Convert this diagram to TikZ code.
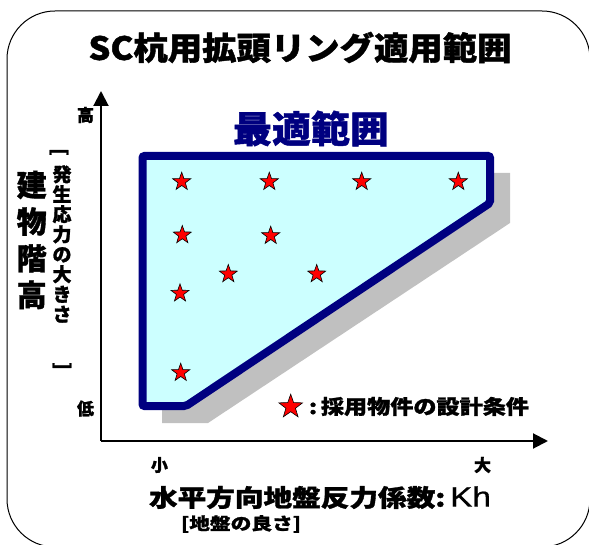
\documentclass[tikz,border=0pt]{standalone}
\usepackage{fontspec}
\usepackage{graphicx}
\usetikzlibrary{shapes.geometric,arrows.meta}
\newfontfamily\jp{Noto Sans CJK JP}
\newfontfamily\jpheavy{Noto Sans CJK JP}[FakeBold=1.2]
\newfontfamily\lat{Liberation Sans}[FakeBold=0.6]
\definecolor{navyblue}{RGB}{0,0,128}
\definecolor{lightcyan}{RGB}{204,255,255}
\definecolor{shadowgray}{RGB}{192,192,192}
\newcommand{\wtext}[2]{\resizebox{#1}{\height}{#2}}
\newcommand{\fs}[1]{\fontsize{#1}{#1}\selectfont\jp\bfseries}
\newcommand{\fh}[1]{\fontsize{#1}{#1}\selectfont\jpheavy\bfseries}
\tikzset{
  pt/.style={star, star points=5, star point ratio=2.5, minimum size=19pt, inner sep=0pt,
    fill=red, draw=black, line width=0.6pt},
  lbl/.style={inner sep=0pt, anchor=center},
  axisline/.style={line width=2pt, -{Triangle[length=15pt,width=15pt]}},
}
\begin{document}
\begin{tikzpicture}[x=1pt,y=-1pt]
\useasboundingbox (0,0) rectangle (589,545);
% outer frame
\draw[line width=1pt, rounded corners=48pt] (7,11) rectangle (590,547);
% title
\node[lbl] (title) at (300,47.5) {\wtext{423pt}{\fh{32}SC杭用拡頭リング適用範囲}};
% axes
\coordinate (o) at (101,441);
\coordinate (ytip) at (101,91);
\coordinate (xtip) at (548,441);
\draw[axisline] (o) -- (ytip);
\draw[axisline] (o) -- (xtip);
% shadow
\fill[shadowgray] (162,173) -- (510,173) -- (510,223) -- (208,423) -- (162,423) -- cycle;
% region
\draw[line width=8pt, draw=navyblue, fill=lightcyan, rounded corners=2pt]
  (142.5,156) -- (490,156) -- (490,203) -- (186,406) -- (142.5,406) -- cycle;
\node[lbl, text=navyblue] (best) at (311,128.5) {\wtext{156pt}{\fh{37}最適範囲}};
% stars
\node[pt] (s1) at (181.7,181.7) {};
\node[pt] (s2) at (269.3,181.7) {};
\node[pt] (s3) at (361.7,181.7) {};
\node[pt] (s4) at (458.3,181.7) {};
\node[pt] (s5) at (182.3,235) {};
\node[pt] (s6) at (270.7,235.7) {};
\node[pt] (s7) at (228.3,274) {};
\node[pt] (s8) at (316.7,274) {};
\node[pt] (s9) at (180,293.3) {};
\node[pt] (s10) at (180.7,372.7) {};
% legend
\node[pt, minimum size=25pt] (ls) at (290.7,406.7) {};
\node[lbl] (legend) at (419,406.5) {\wtext{220pt}{\fh{20}:\,採用物件の設計条件}};
% axis tick labels
\node[lbl] (hi) at (85.5,115) {\fh{17}高};
\node[lbl] (lo) at (85.5,408.5) {\fh{17}低};
\node[lbl] (sm) at (159.5,465) {\fh{17}小};
\node[lbl] (lg) at (482.5,465) {\fh{17}大};
% y-axis labels
\node[lbl, align=center, font=\fontsize{30}{36.7}\selectfont\jpheavy\bfseries] (ytitle) at (31.7,240) {建\\物\\階\\高};
\node[lbl, align=center, font=\fontsize{19}{20}\selectfont\jpheavy\bfseries] (ysub) at (62,244) {発\\生\\応\\力\\の\\大\\き\\さ};
\node[lbl, rotate=-90] (bro) at (59,152) {\fh{19}[};
\node[lbl, rotate=-90] (brc) at (62,366) {\fh{19}]};
% x-axis labels
\node[lbl] (xtitle) at (320,497.5) {\wtext{342pt}{\fh{24}水平方向地盤反力係数:\,{\fontsize{28}{28}\selectfont\lat\mdseries Kh}}};
\node[lbl] (xsub) at (241,524) {\wtext{120pt}{\fh{17}[地盤の良さ]}};
\end{tikzpicture}
\end{document}
